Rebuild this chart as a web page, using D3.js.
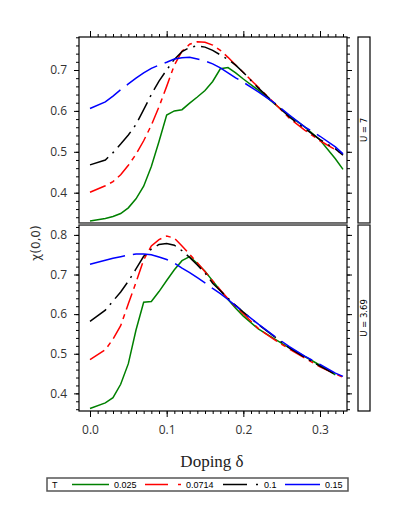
<!DOCTYPE html>
<html><head><meta charset="utf-8">
<script src="https://cdn.jsdelivr.net/npm/d3@7"></script>
<style>body{margin:0;background:#fff}svg{display:block}</style>
</head><body>
<script>
const doping = [0,0.02,0.03,0.04,0.05,0.06,0.07,0.08,0.09,0.10,0.11,0.12,0.13,0.14,0.15,0.16,0.17,0.18,0.19,0.20,0.22,0.24,0.26,0.28,0.30,0.32,0.33];
const temps = ["0.025","0.0714","0.1","0.15"];
const panels = ["U = 7","U = 3.69"];
// U = 7
const u7_t0025 = [0.331,0.337,0.342,0.349,0.363,0.385,0.416,0.464,0.525,0.590,0.600,0.603,0.619,0.634,0.650,0.672,0.703,0.706,0.693,0.678,0.650,0.618,0.588,0.561,0.529,0.483,0.457];
const u7_t0714 = [0.401,0.417,0.427,0.444,0.467,0.494,0.527,0.565,0.610,0.660,0.712,0.746,0.763,0.769,0.768,0.761,0.748,0.731,0.712,0.694,0.657,0.620,0.582,0.553,0.527,0.505,0.494];
const u7_t01   = [0.468,0.480,0.498,0.519,0.541,0.567,0.603,0.640,0.673,0.700,0.726,0.745,0.755,0.759,0.756,0.748,0.737,0.726,0.712,0.694,0.655,0.620,0.585,0.557,0.530,0.507,0.492];
const u7_t015  = [0.606,0.622,0.636,0.652,0.666,0.680,0.693,0.704,0.712,0.719,0.727,0.730,0.731,0.727,0.722,0.715,0.705,0.693,0.681,0.670,0.646,0.620,0.590,0.561,0.538,0.512,0.495];
// U = 3.69
const u369_t0025 = [0.362,0.376,0.389,0.423,0.475,0.560,0.630,0.632,0.657,0.685,0.712,0.735,0.745,0.728,0.708,0.684,0.660,0.637,0.615,0.595,0.562,0.538,0.515,0.493,0.471,0.447,null];
const u369_t0714 = [0.485,0.510,0.537,0.571,0.626,0.680,0.737,0.772,0.788,0.797,0.792,0.772,0.751,0.730,0.707,0.684,0.661,0.639,0.619,0.601,0.563,0.536,0.512,0.489,0.467,0.449,0.441];
const u369_t01   = [0.582,0.610,0.633,0.656,0.683,0.714,0.746,0.764,0.776,0.778,0.774,0.760,0.743,0.724,0.704,0.678,0.659,0.640,0.622,0.605,0.573,0.544,0.515,0.491,0.469,0.448,null];
const u369_t015  = [0.726,0.736,0.741,0.745,0.749,0.752,0.752,0.750,0.744,0.738,0.729,0.716,0.705,0.692,0.679,0.665,0.652,0.637,0.621,0.605,0.574,0.545,0.518,0.494,0.473,0.451,0.443];

const xTicks = [0.0,0.1,0.2,0.3];
const yTicksTop = [0.4,0.5,0.6,0.7];
const yTicksBottom = [0.4,0.5,0.6,0.7,0.8];

const colors = ["#008000","#ff0000","#000000","#0000ff"];
const dashes = [null,"17,5,5,5","20,6,2,6","36,8"];

const W=397,H=517;
const L=79,R=347;
const svg = d3.select("body").append("svg").attr("width",W).attr("height",H);
const x = d3.scaleLinear().domain([-0.01435,0.3352]).range([L,R]);

const panelDefs = [
  {label:panels[0], top:37, bottom:223, dom:[0.3259,0.7807], ticks:yTicksTop, series:[u7_t0025,u7_t0714,u7_t01,u7_t015], topAxis:true, bottomAxis:false},
  {label:panels[1], top:225, bottom:411, dom:[0.3555,0.825], ticks:yTicksBottom, series:[u369_t0025,u369_t0714,u369_t01,u369_t015], topAxis:false, bottomAxis:true}
];

const tickFont = "Open Sans, DejaVu Sans, sans-serif";
const minorX = d3.range(0,0.335,0.01);

panelDefs.forEach(p=>{
  const y = d3.scaleLinear().domain(p.dom).range([p.bottom,p.top]);
  const g = svg.append("g");
  const clipId = "clip"+p.top;
  svg.append("clipPath").attr("id",clipId).append("rect").attr("x",L).attr("y",p.top).attr("width",R-L).attr("height",p.bottom-p.top);
  p.series.forEach((vals,i)=>{
    const line = d3.line().defined(d=>d[1]!=null).x(d=>x(d[0])).y(d=>y(d[1]));
    g.append("path").attr("clip-path",`url(#${clipId})`)
      .attr("d",line(doping.map((d,j)=>[d,vals[j]])))
      .attr("fill","none").attr("stroke",colors[i]).attr("stroke-width",1.5)
      .attr("stroke-dasharray",dashes[i]);
  });
  const minorY = d3.range(0.3,0.86,0.02).filter(v=>v>=p.dom[0]&&v<=p.dom[1]);
  const yAxisL = d3.axisLeft(y).tickValues(p.ticks).tickFormat(d3.format(".1f")).tickSize(5).tickPadding(7);
  const gl = g.append("g").attr("transform",`translate(${L},0)`).call(yAxisL);
  gl.select(".domain").remove();
  gl.selectAll("text").attr("font-family",tickFont).attr("font-size",12).attr("fill","#333");
  g.append("g").attr("transform",`translate(${L},0)`).call(d3.axisLeft(y).tickValues(minorY).tickSize(3).tickFormat("")).select(".domain").remove();
  const gr = g.append("g").attr("transform",`translate(${R},0)`).call(d3.axisRight(y).tickValues(p.ticks).tickSize(5).tickFormat(""));
  gr.select(".domain").remove();
  g.append("g").attr("transform",`translate(${R},0)`).call(d3.axisRight(y).tickValues(minorY).tickSize(3).tickFormat("")).select(".domain").remove();
  if(p.topAxis){
    const a=g.append("g").attr("transform",`translate(0,${p.top})`).call(d3.axisTop(x).tickValues(xTicks).tickSize(6).tickFormat(""));
    a.select(".domain").remove();
    g.append("g").attr("transform",`translate(0,${p.top})`).call(d3.axisTop(x).tickValues(minorX).tickSize(3).tickFormat("")).select(".domain").remove();
  }
  if(p.bottomAxis){
    const a=g.append("g").attr("transform",`translate(0,${p.bottom})`).call(d3.axisBottom(x).tickValues(xTicks).tickSize(6).tickPadding(8).tickFormat(d3.format(".1f")));
    a.select(".domain").remove();
    a.selectAll("text").attr("font-family",tickFont).attr("font-size",12).attr("fill","#333");
    g.append("g").attr("transform",`translate(0,${p.bottom})`).call(d3.axisBottom(x).tickValues(minorX).tickSize(3).tickFormat("")).select(".domain").remove();
  }
  g.append("rect").attr("x",L).attr("y",p.top).attr("width",R-L).attr("height",p.bottom-p.top)
    .attr("fill","none").attr("stroke","#000").attr("stroke-width",1.2);
  g.append("rect").attr("x",358).attr("y",p.top).attr("width",12).attr("height",p.bottom-p.top)
    .attr("fill","#fff").attr("stroke","#000").attr("stroke-width",1.2);
  g.append("text").attr("transform",`translate(366.5,${(p.top+p.bottom)/2}) rotate(-90)`)
    .attr("text-anchor","middle").attr("font-family","DejaVu Sans, sans-serif").attr("font-size",8.5).attr("fill","#000").text(p.label);
});
svg.append("line").attr("x1",L).attr("x2",R).attr("y1",224).attr("y2",224).attr("stroke","#777").attr("stroke-width",2.5);
svg.append("line").attr("x1",358).attr("x2",370).attr("y1",224).attr("y2",224).attr("stroke","#777").attr("stroke-width",2.5);

svg.append("text").attr("x",212).attr("y",467).attr("text-anchor","middle")
  .attr("font-family","Liberation Serif, Times New Roman, serif").attr("font-size",17).attr("fill","#222").text("Doping δ");
svg.append("text").attr("transform","translate(40,243) rotate(-90)").attr("text-anchor","middle")
  .attr("font-family","DejaVu Sans, sans-serif").attr("font-size",12).attr("fill","#333").text("χ(0,0)");

const lg = svg.append("g");
lg.append("rect").attr("x",47).attr("y",478).attr("width",301).attr("height",13).attr("fill","#fff").attr("stroke","#555").attr("stroke-width",1.5);
lg.append("text").attr("x",52).attr("y",488).attr("font-family","Liberation Sans, Arial, sans-serif").attr("font-size",9).text("T");
const legX = [72,145,223,285];
const legW = [37,36,36,35];
temps.forEach((t,i)=>{
  lg.append("line").attr("x1",legX[i]).attr("x2",legX[i]+legW[i]).attr("y1",484.5).attr("y2",484.5)
    .attr("stroke",colors[i]).attr("stroke-width",1.5)
    .attr("stroke-dasharray", i===1?"23,10,3,100": i===2?"24,9,2,100":null);
  lg.append("text").attr("x",legX[i]+legW[i]+5).attr("y",488).attr("font-family","Liberation Sans, Arial, sans-serif").attr("font-size",9).text(t);
});
</script>
</body></html>
